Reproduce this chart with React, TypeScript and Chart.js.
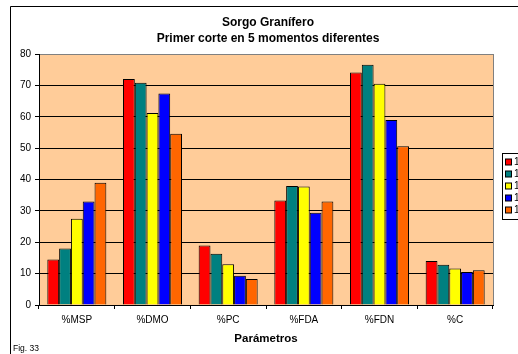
import React, { useEffect, useRef } from 'react';
import { Chart, registerables } from 'chart.js';

Chart.register(...registerables);

const TITLE_LINES = ['Sorgo Granífero', 'Primer corte en 5 momentos diferentes'];
const X_TITLE = 'Parámetros';
const FOOTNOTE = 'Fig. 33';

const categories = ['%MSP', '%DMO', '%PC', '%FDA', '%FDN', '%C'];
const seriesLabels = ['15/12/04', '16/12/04', '17/12/04', '18/12/04', '19/12/04'];
const serie1 = [14.5, 72.0, 19.0, 33.3, 74.1, 14.0];
const serie2 = [18.0, 70.8, 16.3, 37.9, 76.6, 12.8];
const serie3 = [27.5, 61.2, 13.0, 37.8, 70.5, 11.6];
const serie4 = [33.0, 67.4, 9.3, 29.4, 59.0, 10.5];
const serie5 = [39.0, 54.6, 8.3, 33.0, 50.6, 11.1];
const seriesColors = ['#FF0000', '#008080', '#FFFF00', '#0000FF', '#FF6600'];
const Y_MIN = 0;
const Y_MAX = 80;
const Y_STEP = 10;

const FONT = '"Liberation Sans", Arial, sans-serif';

const decorPlugin = {
  id: 'decor',
  beforeDraw(chart: any) {
    const { ctx, chartArea } = chart;
    ctx.save();
    ctx.fillStyle = '#FFFFFF';
    ctx.fillRect(0, 0, chart.width, chart.height);
    ctx.fillStyle = '#FFCC99';
    ctx.fillRect(chartArea.left, chartArea.top, chartArea.right - chartArea.left, chartArea.bottom - chartArea.top);
    ctx.restore();
  },
  afterDraw(chart: any) {
    const { ctx, chartArea } = chart;
    ctx.save();
    // plot border right (gray)
    ctx.strokeStyle = '#808080';
    ctx.lineWidth = 1;
    ctx.beginPath();
    ctx.moveTo(Math.round(chartArea.right) + 0.5, chartArea.top);
    ctx.lineTo(Math.round(chartArea.right) + 0.5, chartArea.bottom);
    ctx.stroke();

    // outer chart border
    ctx.strokeStyle = '#000000';
    ctx.beginPath();
    ctx.moveTo(10.5, 400);
    ctx.lineTo(10.5, 6.5);
    ctx.lineTo(600, 6.5);
    ctx.stroke();

    // title
    ctx.fillStyle = '#000000';
    ctx.textAlign = 'center';
    ctx.textBaseline = 'middle';
    ctx.font = `bold 12px ${FONT}`;
    ctx.fillText(TITLE_LINES[0], 268, 23);
    ctx.fillText(TITLE_LINES[1], 268, 38.5);

    // x axis title
    ctx.font = `bold 11.5px ${FONT}`;
    ctx.fillText(X_TITLE, (chartArea.left + chartArea.right) / 2, 338.5);

    // footnote
    ctx.textAlign = 'left';
    ctx.font = `8.5px ${FONT}`;
    ctx.fillText(FOOTNOTE, 13, 348.5);

    // legend
    const lx = 502.5;
    const ly = 153.5;
    ctx.fillStyle = '#FFFFFF';
    ctx.fillRect(lx, ly, 100, 66);
    ctx.strokeStyle = '#000000';
    ctx.strokeRect(lx, ly, 100, 66);
    ctx.font = `10px ${FONT}`;
    chart.data.datasets.forEach((ds: any, i: number) => {
      const cy = 162 + i * 12;
      ctx.fillStyle = ds.backgroundColor;
      ctx.fillRect(505.5, cy - 3, 6, 6);
      ctx.strokeStyle = '#000000';
      ctx.strokeRect(505.5, cy - 3, 6, 6);
      ctx.fillStyle = '#000000';
      ctx.textAlign = 'left';
      ctx.fillText(ds.label, 514, cy);
    });
    ctx.restore();
  },
};

export default function App() {
  const ref = useRef<HTMLCanvasElement>(null);
  useEffect(() => {
    if (!ref.current) return;
    const series = [serie1, serie2, serie3, serie4, serie5];
    const chart = new Chart(ref.current, {
      type: 'bar',
      data: {
        labels: categories,
        datasets: series.map((data, i) => ({
          label: seriesLabels[i],
          data,
          backgroundColor: seriesColors[i],
          borderColor: '#000000',
          borderWidth: 1,
          categoryPercentage: 0.78,
          barPercentage: 1.0,
        })),
      },
      options: {
        animation: false,
        responsive: false,
        devicePixelRatio: 1,
        layout: { padding: { left: 0, top: 54, right: 25, bottom: 0 } },
        plugins: {
          legend: { display: false },
          title: { display: false },
          tooltip: { enabled: false },
        },
        scales: {
          x: {
            grid: {
              offset: true,
              drawOnChartArea: false,
              drawTicks: true,
              tickLength: 4,
              color: '#000000',
              tickColor: '#000000',
            },
            border: { display: true, color: '#000000', width: 1 },
            ticks: {
              color: '#000000',
              font: { family: FONT, size: 10 },
              padding: 5,
              maxRotation: 0,
              autoSkip: false,
            },
            afterFit: (s: any) => {
              s.height = 49;
            },
          },
          y: {
            min: Y_MIN,
            max: Y_MAX,
            grid: {
              drawTicks: true,
              tickLength: 4,
              color: (c: any) => (c.tick && c.tick.value === Y_MAX ? '#808080' : '#000000'),
              tickColor: '#000000',
            },
            border: { display: true, color: '#000000', width: 1 },
            ticks: {
              stepSize: Y_STEP,
              color: '#000000',
              font: { family: FONT, size: 10 },
              padding: 4,
            },
            afterFit: (s: any) => {
              s.width = 39;
            },
          },
        },
      },
      plugins: [decorPlugin],
    });
    return () => chart.destroy();
  }, []);
  return (
    <div style={{ position: 'absolute', left: 0, top: 0, width: 518, height: 354, overflow: 'hidden' }}>
      <canvas ref={ref} width={518} height={354} style={{ display: 'block', width: 518, height: 354 }} />
    </div>
  );
}
